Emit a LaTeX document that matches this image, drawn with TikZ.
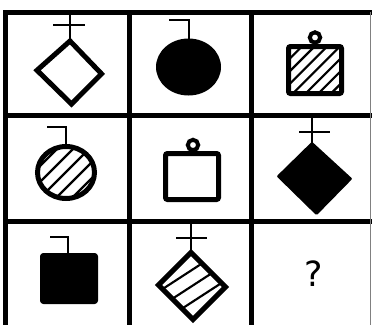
\documentclass[tikz,border=0pt]{standalone}
\usepackage{fontspec}
\newfontfamily\qfont{DejaVu Sans}
\begin{document}
\begin{tikzpicture}[x=0.75pt,y=-0.75pt,
  gridline/.style={line width=3.75pt, line join=miter},
  outl/.style={line width=3.75pt, line join=miter},
  thinl/.style={line width=1.5pt, line join=miter},
  hatch/.style={line width=1.6pt},
  loopc/.style={line width=3pt}]
\useasboundingbox (0,0) rectangle (372,325);
\fill[white] (0,0) rectangle (372,325);
\begin{scope}
\clip (0,0) rectangle (372,325);
% grid
\draw[gridline] (5.5,335) -- (5.5,12) -- (380,12);
\draw[gridline] (3.6,115.5) -- (380,115.5);
\draw[gridline] (3.6,221.5) -- (380,221.5);
\draw[gridline] (129,12) -- (129,335);
\draw[gridline] (251,12) -- (251,335);
\draw[line width=0.75pt, gray] (370.5,12) -- (370.5,335);

% cell 1,1 : outline diamond with cross
\draw[outl] (70,41) -- (101.5,73.8) -- (71.5,104) -- (37,70.3) -- cycle;
\draw[thinl] (69.5,12) -- (69.5,40);
\draw[thinl] (53,25) -- (85,25);

% cell 1,2 : filled ellipse with hook
\fill (188.5,67) ellipse [x radius=32.5, y radius=28.5];
\draw[thinl] (169,20) -- (188.5,20) -- (188.5,40);

% cell 1,3 : hatched square with loop
\begin{scope}
\clip (288.5,46.5) rectangle (341.5,93.5);
\foreach \k in {0,...,6} {
  \pgfmathsetmacro\cc{348.3+12.7*\k}
  \draw[hatch] (\cc-30,30) -- (\cc-110,110);
}
\end{scope}
\draw[outl, rounded corners=1.5pt] (288.5,46.5) rectangle (341.5,93.5);
\draw[loopc] (315,37.5) circle [radius=5.2];

% cell 2,1 : hatched ellipse with hook
\begin{scope}
\clip (66,172.5) ellipse [x radius=28.5, y radius=26];
\foreach \k in {0,...,4} {
  \pgfmathsetmacro\cc{206+16*\k}
  \draw[hatch] (\cc-130,130) -- (\cc-215,215);
}
\end{scope}
\draw[outl] (66,172.5) ellipse [x radius=28.5, y radius=26];
\draw[thinl] (47,126.5) -- (66,126.5) -- (66,146);

% cell 2,2 : outline square with loop
\draw[outl, rounded corners=1.5pt] (165.5,153.5) rectangle (218.5,199.5);
\draw[loopc] (193,145) circle [radius=5.2];

% cell 2,3 : filled diamond with cross
\filldraw[line width=2pt, line join=round] (312,143.5) -- (350.5,178.8) -- (316.5,213.5) -- (278.5,176.3) -- cycle;
\draw[thinl] (312,117) -- (312,144);
\draw[thinl] (299,132) -- (330,132);

% cell 3,1 : filled square with hook
\fill[rounded corners=2.5pt] (40,253) rectangle (98,304);
\draw[thinl] (50,237) -- (68,237) -- (68,254);

% cell 3,2 : hatched diamond with cross
\begin{scope}
\clip (191,252.5) -- (225.5,287) -- (193,319.5) -- (158.5,285) -- cycle;
\foreach \t in {-13.5,0,13.5} {
  \draw[hatch] (192+\t*0.545-50.3, 286+\t*0.839+32.7) -- ++(100.7,-65.4);
}
\end{scope}
\draw[outl] (191,252.5) -- (225.5,287) -- (193,319.5) -- (158.5,285) -- cycle;
\draw[thinl] (191,223) -- (191,251);
\draw[thinl] (176,238.3) -- (207,238.3);

% cell 3,3 : question mark
\node[font=\qfont\fontsize{26}{30}\selectfont, inner sep=0pt] (q) at (313.3,274) {?};
\end{scope}
\end{tikzpicture}
\end{document}
